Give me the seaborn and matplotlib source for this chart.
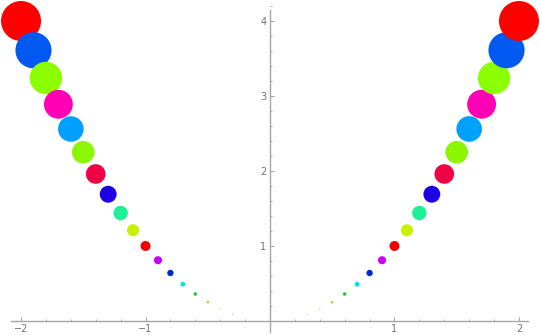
import matplotlib
matplotlib.use("Agg")
import matplotlib.pyplot as plt
from matplotlib.ticker import MultipleLocator, FixedLocator
import seaborn as sns
import pandas as pd

# magnitudes of x for the points on each side (largest first)
x_abs = [2.0, 1.9, 1.8, 1.7, 1.6, 1.5, 1.4, 1.3, 1.2, 1.1, 1.0, 0.9, 0.8, 0.7, 0.6, 0.5, 0.4, 0.3]
y_vals = [4.0, 3.61, 3.24, 2.89, 2.56, 2.25, 1.96, 1.69, 1.44, 1.21, 1.0, 0.81, 0.64, 0.49, 0.36, 0.25, 0.16, 0.09]
point_colors = ["#ff0000", "#0059f0", "#8cff00", "#ff00b4", "#00a0ff", "#8cf500",
                "#f00046", "#1e00e6", "#1ef096", "#c8f000", "#f00000", "#c800f0",
                "#0028d2", "#00e6e6", "#28c83c", "#b4c828", "#e6e650", "#9678a0"]

x_ticks = [-2, -1, 1, 2]
x_tick_labels = ["\u22122", "\u22121", "1", "2"]
y_ticks = [1, 2, 3, 4]
y_tick_labels = ["1", "2", "3", "4"]

# left side drawn from x=-2 upward, then right side from small x to 2
xs = [-v for v in x_abs] + list(reversed(x_abs))
ys = y_vals + list(reversed(y_vals))
cs = point_colors + list(reversed(point_colors))
df = pd.DataFrame({"x": xs, "y": ys, "color": cs})

sns.set_style("white")
plt.rcParams["font.family"] = ["DejaVu Sans"]

fig = plt.figure(figsize=(5.4, 3.35), dpi=100)
ax = fig.add_axes([0, 0, 1, 1])

size_map = {v: (7.2 * v) ** 2 for v in y_vals}
sns.scatterplot(data=df, x="x", y="y", hue="color",
                palette={c: c for c in point_colors},
                size="y", sizes=size_map, legend=False,
                linewidth=0, alpha=1, ax=ax, zorder=3)

ax.set_xlim(-2.169, 2.169)
ax.set_ylim(-0.187, 4.28)
ax.set_xlabel("")
ax.set_ylabel("")

axis_col = "#a6a6a6"
for s in ["top", "right"]:
    ax.spines[s].set_visible(False)
ax.spines["left"].set_position(("data", 0))
ax.spines["bottom"].set_position(("data", 0))
ax.spines["left"].set_bounds(-0.15, 4.15)
ax.spines["bottom"].set_bounds(-2.08, 2.07)
for s in ["left", "bottom"]:
    ax.spines[s].set_color(axis_col)
    ax.spines[s].set_linewidth(1.0)
    ax.spines[s].set_zorder(1)

ax.xaxis.set_major_locator(FixedLocator(x_ticks))
ax.set_xticklabels(x_tick_labels)
ax.yaxis.set_major_locator(FixedLocator(y_ticks))
ax.set_yticklabels(y_tick_labels)
ax.xaxis.set_minor_locator(MultipleLocator(0.2))
ax.yaxis.set_minor_locator(MultipleLocator(0.2))

ax.tick_params(which="major", direction="in", length=3.2, width=0.8,
               color=axis_col, labelcolor="#707070", labelsize=7, pad=2.5)
ax.tick_params(which="minor", direction="in", length=1.6, width=0.7, color=axis_col)
ax.tick_params(axis="x", bottom=True, which="both")
ax.tick_params(axis="y", left=True, which="both")

fig.savefig("out.png", dpi=100)
